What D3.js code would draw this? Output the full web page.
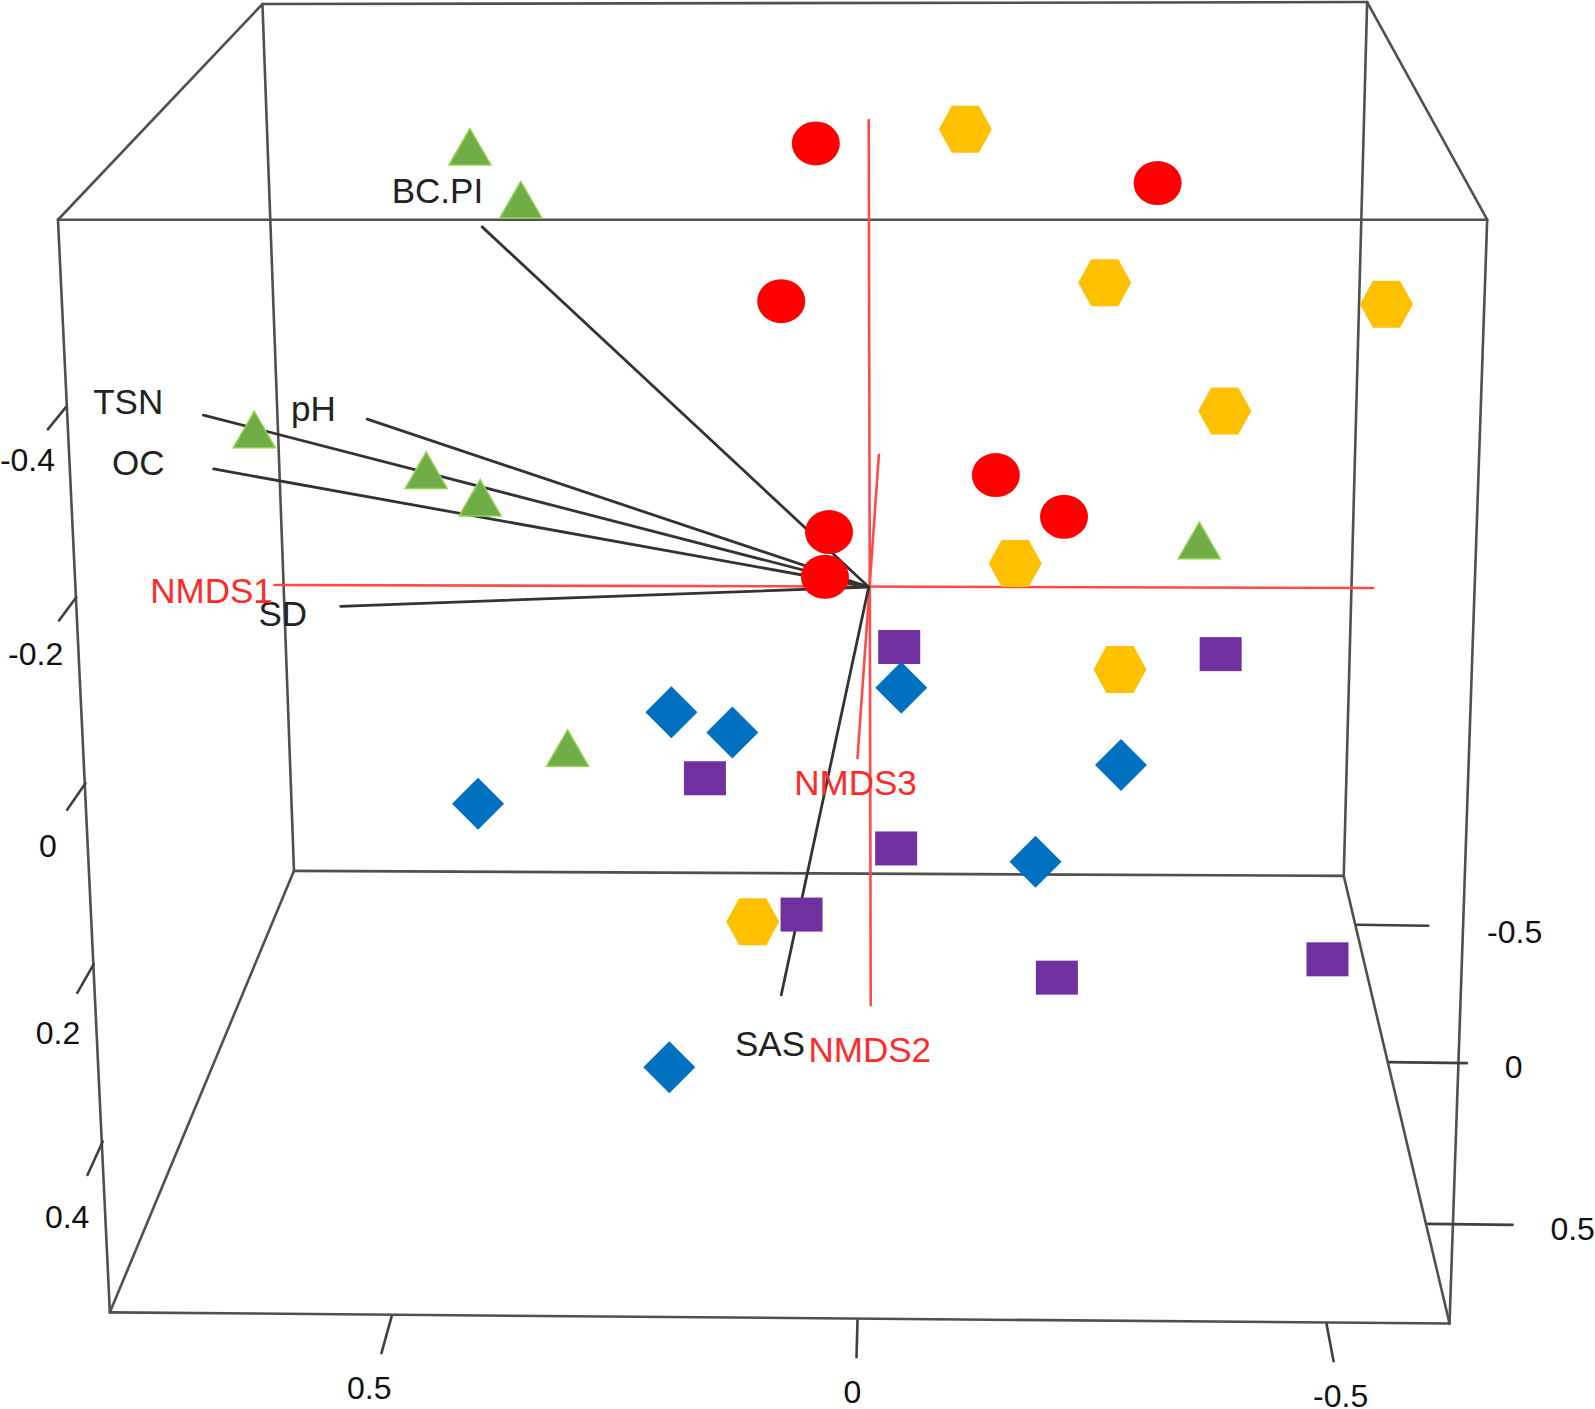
<!DOCTYPE html>
<html>
<head>
<meta charset="utf-8">
<script src="https://cdn.jsdelivr.net/npm/d3@7"></script>
<style>
html,body{margin:0;padding:0;background:#fff;overflow:hidden}
svg{display:block}
text{font-family:"Liberation Sans",Arial,sans-serif}
</style>
</head>
<body>
<script>
const group1Circles   = [[-0.052,0.436],[0.284,0.397],[-0.086,0.281],[0.125,0.110],[0.192,0.069],[-0.039,0.054],[-0.043,0.010]];
const group2Hexagons  = [[0.095,0.450],[0.232,0.299],[0.509,0.278],[0.350,0.173],[0.144,0.023],[0.247,-0.081],[-0.114,-0.329]];
const group3Triangles = [[-0.392,0.431],[-0.342,0.379],[-0.604,0.153],[-0.435,0.113],[-0.382,0.086],[0.325,0.044],[-0.296,-0.160]];
const group4Squares   = [[0.030,-0.059],[0.346,-0.066],[-0.161,-0.188],[0.027,-0.257],[-0.066,-0.322],[0.185,-0.384],[0.451,-0.366]];
const group5Diamonds  = [[-0.194,-0.123],[-0.134,-0.143],[0.032,-0.099],[-0.384,-0.213],[0.248,-0.175],[0.164,-0.270],[-0.196,-0.472]];

const vectorNames = ["BC.PI","pH","TSN","OC","SD","SAS"];
const vectorEnds  = [[-0.380,0.354],[-0.493,0.165],[-0.654,0.169],[-0.644,0.116],[-0.519,-0.019],[-0.086,-0.401]];
const vectorLabelAt = [[-0.424,0.390],[-0.546,0.175],[-0.728,0.182],[-0.718,0.122],[-0.576,-0.026],[-0.097,-0.449]];

const axisNames = ["NMDS1","NMDS2","NMDS3"];
const axisSegments = [[[-0.584,0.002],[0.496,-0.001]],[[0,0.459],[0.002,-0.411]],[[0.010,0.130],[-0.011,-0.168]]];
const axisLabelAt = [[-0.646,-0.003],[0.001,-0.455],[-0.013,-0.192]];

const boxCorners = {
  ftl:[-0.797,0.361], ftr:[0.608,0.361], fbl:[-0.746,-0.713], fbr:[0.571,-0.724],
  btl:[-0.596,0.573], btr:[0.490,0.575], bbl:[-0.565,-0.279], bbr:[0.467,-0.284]
};
const boxEdges = [["ftl","ftr"],["ftr","fbr"],["fbr","fbl"],["fbl","ftl"],
                  ["btl","btr"],["btr","bbr"],["bbr","bbl"],["bbl","btl"],
                  ["ftl","btl"],["ftr","btr"],["fbl","bbl"],["fbr","bbr"]];

const zTickLabels = ["-0.4","-0.2","0","0.2","0.4"];
const zTickSegs = [[[-0.789,0.177],[-0.807,0.155]],[[-0.779,-0.010],[-0.796,-0.033]],[[-0.770,-0.193],[-0.788,-0.219]],[[-0.762,-0.371],[-0.778,-0.399]],[[-0.753,-0.545],[-0.768,-0.578]]];
const zTickLabelAt = [[-0.827,0.125],[-0.819,-0.066],[-0.807,-0.255],[-0.797,-0.438],[-0.788,-0.619]];

const xTickLabels = ["0.5","0","-0.5"];
const xTickSegs = [[[-0.469,-0.717],[-0.479,-0.753]],[[-0.011,-0.721],[-0.012,-0.757]],[[0.450,-0.724],[0.457,-0.761]]];
const xTickLabelAt = [[-0.491,-0.787],[-0.016,-0.791],[0.464,-0.795]];

const yTickLabels = ["-0.5","0","0.5"];
const yTickSegs = [[[0.480,-0.332],[0.550,-0.333]],[[0.511,-0.467],[0.588,-0.468]],[[0.550,-0.626],[0.633,-0.627]]];
const yTickLabelAt = [[0.635,-0.339],[0.634,-0.472],[0.692,-0.631]];

const W = 1595, H = 1409;
const x = d3.scaleLinear().domain([-0.854,0.714]).range([0,W]);
const y = d3.scaleLinear().domain([0.577,-0.808]).range([0,H]);

const svg = d3.select("body").append("svg").attr("width",W).attr("height",H).attr("viewBox",`0 0 ${W} ${H}`);
svg.append("rect").attr("width",W).attr("height",H).attr("fill","#fff");

function segs(sel,data,stroke,width,cls){
  return sel.append("g").attr("class",cls).selectAll("line").data(data).join("line")
    .attr("x1",d=>x(d[0][0])).attr("y1",d=>y(d[0][1]))
    .attr("x2",d=>x(d[1][0])).attr("y2",d=>y(d[1][1]))
    .attr("stroke",stroke).attr("stroke-width",width).attr("stroke-linecap","round");
}
function labels(names,at,size,fill,cls){
  svg.append("g").attr("class",cls).selectAll("text").data(names).join("text")
    .attr("x",(d,i)=>x(at[i][0])).attr("y",(d,i)=>y(at[i][1]))
    .attr("text-anchor","middle").attr("dominant-baseline","central")
    .attr("font-size",size).attr("fill",fill).text(d=>d);
}

// box
segs(svg,boxEdges.map(e=>[boxCorners[e[0]],boxCorners[e[1]]]),"#505050",2.6,"box");
// ticks
segs(svg,zTickSegs,"#404040",2.6,"ticks-z");
segs(svg,xTickSegs,"#404040",2.6,"ticks-x");
segs(svg,yTickSegs,"#404040",2.6,"ticks-y");
// ordination axes
segs(svg,axisSegments,"#ff4a4a",2.6,"axes");
// environmental vectors
segs(svg,vectorEnds.map(e=>[[0,0],e]),"#333",2.8,"vectors");

// markers
const lineClosed = d3.line().curve(d3.curveLinearClosed);
const shapes = {
  hex:[[-26.5,0],[-13.5,-23.5],[13.5,-23.5],[26.5,0],[13.5,23.5],[-13.5,23.5]],
  tri:[[0,-20],[21,16.5],[-21,16.5]],
  dia:[[0,-26],[26,0],[0,26],[-26,0]]
};
function poly(data,pts,fill,stroke,cls){
  svg.append("g").attr("class",cls).selectAll("path").data(data).join("path")
    .attr("d",lineClosed(pts))
    .attr("transform",d=>`translate(${x(d[0])},${y(d[1])})`)
    .attr("fill",fill).attr("stroke",stroke||"none").attr("stroke-width",stroke?1.5:0);
}
svg.append("g").attr("class","group1").selectAll("ellipse").data(group1Circles).join("ellipse")
  .attr("cx",d=>x(d[0])).attr("cy",d=>y(d[1])).attr("rx",24).attr("ry",22).attr("fill","#ff0000");
poly(group2Hexagons,shapes.hex,"#ffc000",null,"group2");
poly(group3Triangles,shapes.tri,"#70ad47","#92d050","group3");
svg.append("g").attr("class","group4").selectAll("rect").data(group4Squares).join("rect")
  .attr("x",d=>x(d[0])-21).attr("y",d=>y(d[1])-17).attr("width",42).attr("height",34).attr("fill","#7030a0");
poly(group5Diamonds,shapes.dia,"#0070c0",null,"group5");

// text
labels(vectorNames,vectorLabelAt,35,"#222","vector-labels");
labels(axisNames,axisLabelAt,35,"#ff2a2a","axis-labels");
labels(zTickLabels,zTickLabelAt,32,"#111","z-labels");
labels(xTickLabels,xTickLabelAt,32,"#111","x-labels");
labels(yTickLabels,yTickLabelAt,32,"#111","y-labels");
</script>
</body>
</html>
